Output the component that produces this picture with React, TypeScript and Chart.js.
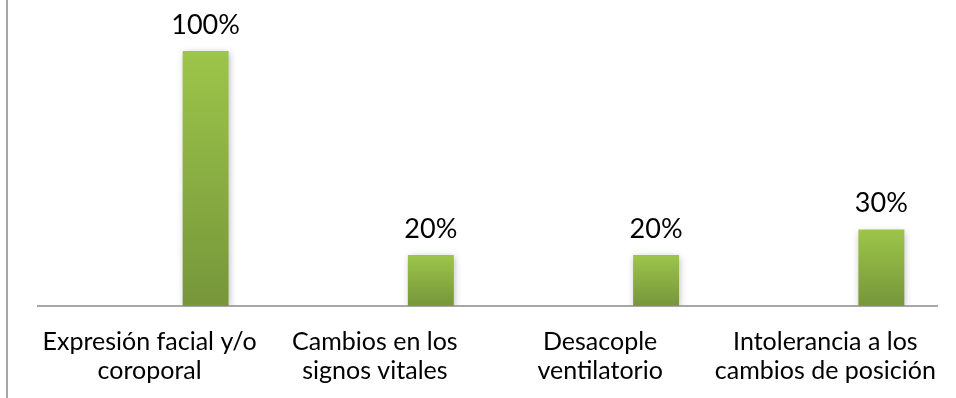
import { useEffect, useRef } from 'react';
import { Chart, registerables } from 'chart.js';
Chart.register(...registerables);

const categories: string[][] = [
  ['Expresión facial y/o', 'coroporal'],
  ['Cambios en los', 'signos vitales'],
  ['Desacople', 'ventilatorio'],
  ['Intolerancia a los', 'cambios de posición'],
];
const values: number[] = [1.0, 0.2, 0.2, 0.3];
const emptySeries: (number | null)[] = [null, null, null, null];
const yMax = 1.2;

const FONT = 'Lato, "Open Sans", sans-serif';

const shadowPlugin = {
  id: 'barShadow',
  beforeDatasetDraw(chart: any, args: any) {
    if (args.index !== 1) return;
    const ctx = chart.ctx;
    ctx.save();
    ctx.shadowColor = 'rgba(0,0,0,0.28)';
    ctx.shadowBlur = 7;
    ctx.shadowOffsetX = 1;
    ctx.shadowOffsetY = 2;
  },
  afterDatasetDraw(chart: any, args: any) {
    if (args.index !== 1) return;
    chart.ctx.restore();
  },
};

const labelPlugin = {
  id: 'valueLabels',
  afterDatasetsDraw(chart: any) {
    const meta = chart.getDatasetMeta(1);
    const ctx = chart.ctx;
    ctx.save();
    ctx.font = `27px ${FONT}`;
    ctx.fillStyle = '#000';
    ctx.textAlign = 'center';
    ctx.textBaseline = 'middle';
    meta.data.forEach((bar: any, i: number) => {
      const v = values[i];
      ctx.fillText(`${Math.round(v * 100)}%`, bar.x, bar.y - 26);
    });
    ctx.restore();
  },
};

const axisLinePlugin = {
  id: 'axisLine',
  afterDatasetsDraw(chart: any) {
    const { ctx, chartArea } = chart;
    const y0 = chart.scales.y.getPixelForValue(0);
    ctx.save();
    ctx.strokeStyle = '#8a8a8a';
    ctx.lineWidth = 1.5;
    ctx.beginPath();
    ctx.moveTo(chartArea.left, y0);
    ctx.lineTo(chartArea.right, y0);
    ctx.stroke();
    ctx.restore();
  },
};

function barGradient(context: any) {
  const chart = context.chart;
  const y = chart.scales?.y;
  if (!y || !chart.chartArea) return '#8fb443';
  const v = context.raw ?? 0;
  const top = y.getPixelForValue(v);
  const bottom = y.getPixelForValue(0);
  if (!isFinite(top) || !isFinite(bottom) || top === bottom) return '#8fb443';
  const g = chart.ctx.createLinearGradient(0, top, 0, bottom);
  g.addColorStop(0, '#9dc54a');
  g.addColorStop(1, '#76963a');
  return g;
}

export default function App() {
  const ref = useRef<HTMLCanvasElement>(null);
  useEffect(() => {
    document.body.style.margin = '0';
    const chart = new Chart(ref.current!, {
      type: 'bar',
      data: {
        labels: categories as any,
        datasets: [
          { data: emptySeries as any, backgroundColor: 'transparent' },
          { data: values, backgroundColor: barGradient as any, borderWidth: 0 },
        ],
      },
      options: {
        animation: false,
        responsive: false,
        maintainAspectRatio: false,
        events: [],
        layout: { padding: { left: 37, right: 18, top: 0, bottom: 0 } },
        datasets: { bar: { categoryPercentage: 0.994, barPercentage: 0.41 } },
        plugins: { legend: { display: false }, tooltip: { enabled: false } },
        scales: {
          x: {
            grid: { display: false },
            border: { display: false },
            ticks: {
              color: '#000',
              font: { family: FONT, size: 25, lineHeight: 1.16 },
              padding: 13,
              maxRotation: 0,
              autoSkip: false,
            },
            afterFit(scale: any) {
              scale.height = 92;
            },
          },
          y: { display: false, min: 0, max: yMax },
        },
      },
      plugins: [shadowPlugin, axisLinePlugin, labelPlugin],
    });
    return () => chart.destroy();
  }, []);
  return (
    <div style={{ position: 'relative', width: 956, height: 398 }}>
      <div style={{ position: 'absolute', left: 6, top: 0, width: 2, height: 398, background: '#a6a6a6' }} />
      <canvas ref={ref} width={956} height={398} style={{ display: 'block', width: 956, height: 398 }} />
    </div>
  );
}
